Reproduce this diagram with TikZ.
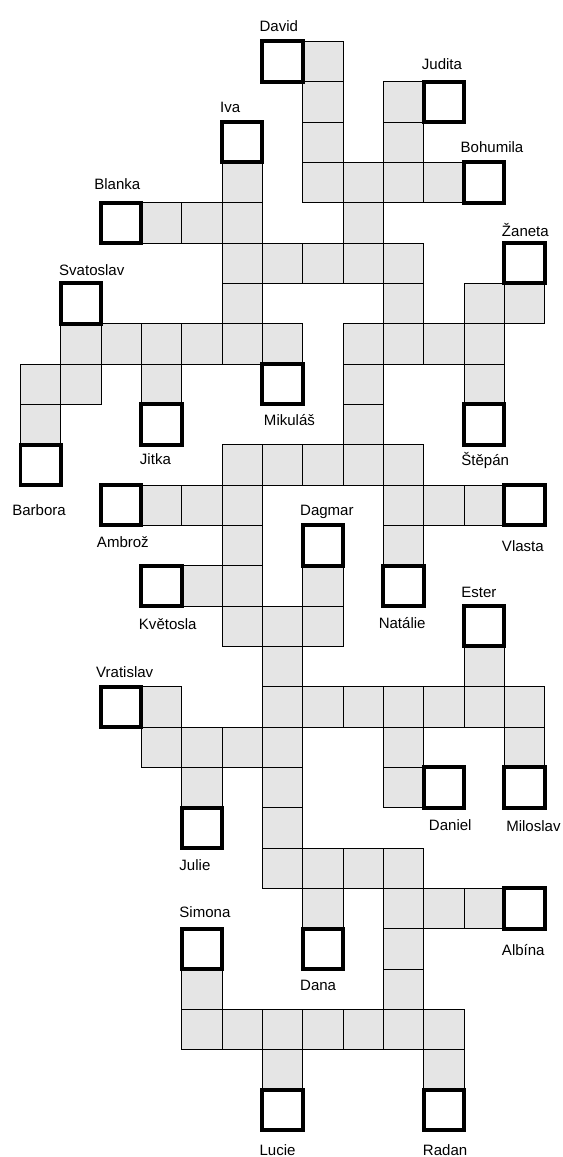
\documentclass[tikz,border=0pt]{standalone}
\usepackage{fontspec}
\setmainfont{Liberation Sans}
\definecolor{cellgray}{RGB}{229,229,229}
\tikzset{
  cell/.style={draw=black, fill=cellgray, line width=0.6pt, minimum size=1cm, inner sep=0pt, outer sep=0pt, rectangle},
  namebox/.style={draw=black, fill=white, line width=2.8pt, minimum size=1cm, inner sep=0pt, outer sep=0pt, rectangle},
  lbl/.style={anchor=base west, inner sep=0pt, outer sep=0pt, font=\fontsize{10.6}{12}\selectfont}
}
\begin{document}
\begin{tikzpicture}[x=1cm,y=1cm]
\useasboundingbox (-0.508,1.027) rectangle (13.451,-27.662);
% gray cells
\foreach \r/\cs in {0/{7},1/{7,9},2/{7,9},3/{5,7,8,9,10},4/{3,4,5,8},5/{5,6,7,8,9},6/{5,9,11,12},7/{1,2,3,4,5,6,8,9,10,11},8/{0,1,3,8,11},9/{0,8},10/{5,6,7,8,9},11/{3,4,5,9,10,11},12/{5,9},13/{4,5,7},14/{5,6,7},15/{6,11},16/{3,6,7,8,9,10,11,12},17/{3,4,5,6,9,12},18/{4,6,9},19/{6},20/{6,7,8,9},21/{7,9,10,11},22/{9},23/{4,9},24/{4,5,6,7,8,9,10},25/{6,10}}{
  \foreach \c in \cs {
    \node[cell] (g-\c-\r) at (\c+0.5,-\r-0.5) {};
  }
}
% name boxes and labels
\foreach \c/\r/\id/\txt/\lx/\ly in {
  6/0/david/David/5.929/0.258,
  10/1/judita/Judita/9.953/-0.692,
  5/2/iva/Iva/4.949/-1.768,
  11/3/bohumila/Bohumila/10.915/-2.760,
  2/4/blanka/Blanka/1.832/-3.667,
  12/5/zaneta/Žaneta/11.939/-4.825,
  1/6/svatoslav/Svatoslav/0.960/-5.800,
  6/8/mikulas/Mikuláš/6.038/-9.512,
  3/9/jitka/Jitka/2.963/-10.503,
  11/9/stepan/Štěpán/10.932/-10.515,
  0/10/barbora/Barbora/-0.203/-11.761,
  2/11/ambroz/Ambrož/1.897/-12.561,
  12/11/vlasta/Vlasta/11.939/-12.653,
  7/12/dagmar/Dagmar/6.935/-11.761,
  3/13/kvetosla/Květosla/2.938/-14.577,
  9/13/natalie/Natálie/8.884/-14.552,
  11/14/ester/Ester/10.932/-13.784,
  2/16/vratislav/Vratislav/1.877/-15.767,
  10/18/daniel/Daniel/10.129/-19.554,
  12/18/miloslav/Miloslav/12.046/-19.596,
  4/19/julie/Julie/3.942/-20.546,
  4/22/simona/Simona/3.942/-21.718,
  12/21/albina/Albína/11.939/-22.653,
  7/22/dana/Dana/6.935/-23.521,
  6/26/lucie/Lucie/5.929/-27.625,
  10/26/radan/Radan/9.980/-27.625}{
  \node[namebox] (box-\id) at (\c+0.5,-\r-0.5) {};
  \node[lbl] (lbl-\id) at (\lx,\ly) {\txt};
}
\end{tikzpicture}
\end{document}
